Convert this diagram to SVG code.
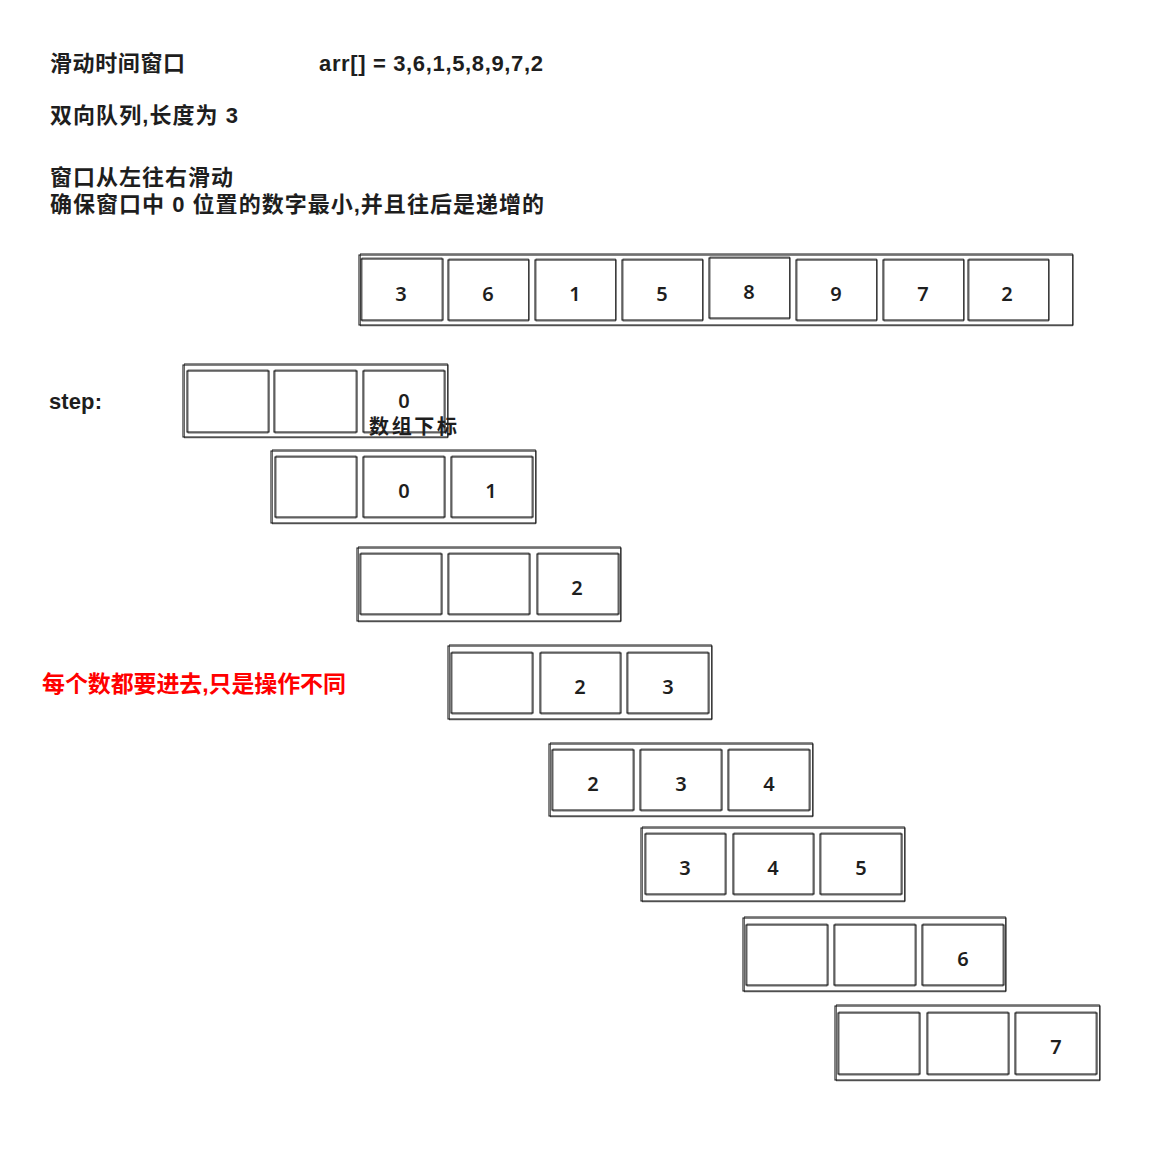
<svg xmlns="http://www.w3.org/2000/svg" width="1157" height="1151" viewBox="0 0 1157 1151">
<style>
.t{font-family:"Liberation Sans","Noto Sans CJK SC",sans-serif;font-weight:bold;font-size:22px;fill:#1e1e1e}
.r{fill:#ff0000;font-size:23px}
.n{font-family:"Noto Sans","Noto Sans CJK SC",sans-serif;font-size:20px;font-weight:600;fill:#1e1e1e;text-anchor:middle}
.b{fill:none;stroke:#1e1e1e;stroke-width:1.1}
.b2{fill:none;stroke:#1e1e1e;stroke-width:0.8;opacity:0.85}
</style>
<rect width="1157" height="1151" fill="#ffffff"/>
<g id="texts">
<text class="t" x="50" y="71" textLength="135">滑动时间窗口</text>
<text class="t" x="319" y="71" textLength="224" font-size="23">arr[] = 3,6,1,5,8,9,7,2</text>
<text class="t" x="50" y="123" textLength="188">双向队列,长度为 3</text>
<text class="t" x="50" y="185" textLength="183">窗口从左往右滑动</text>
<text class="t" x="50" y="212" textLength="494">确保窗口中 0 位置的数字最小,并且往后是递增的</text>
<text class="t" x="49" y="409" textLength="53">step:</text>
<text class="t r" x="42" y="692" textLength="304">每个数都要进去,只是操作不同</text>
</g>
<g id="array">
<rect class="b" x="359" y="255" width="714" height="70"/><rect class="b2" x="360.5" y="253.8" width="712" height="72"/>
<rect class="b" x="361" y="259" width="82" height="61"/><rect class="b2" x="362" y="258" width="80" height="63"/>
<rect class="b" x="448" y="260" width="81" height="60"/><rect class="b2" x="449" y="259" width="79.5" height="62"/>
<rect class="b" x="535" y="260" width="81" height="60"/><rect class="b2" x="536" y="259" width="79.5" height="62"/>
<rect class="b" x="622" y="260" width="81" height="60"/><rect class="b2" x="623" y="259" width="79.5" height="62"/>
<rect class="b" x="709" y="258" width="81" height="60"/><rect class="b2" x="710" y="257" width="79.5" height="62"/>
<rect class="b" x="796" y="260" width="81" height="60"/><rect class="b2" x="797" y="259" width="79.5" height="62"/>
<rect class="b" x="883" y="260" width="81" height="60"/><rect class="b2" x="884" y="259" width="79.5" height="62"/>
<rect class="b" x="968" y="260" width="81" height="60"/><rect class="b2" x="969" y="259" width="79.5" height="62"/>
<text class="n" x="401" y="301">3</text><text class="n" x="488" y="301">6</text><text class="n" x="575" y="301">1</text><text class="n" x="662" y="301">5</text>
<text class="n" x="749" y="299">8</text><text class="n" x="836" y="301">9</text><text class="n" x="923" y="301">7</text><text class="n" x="1007" y="301">2</text>
</g>
<g id="step1">
<rect class="b" x="183" y="365" width="265" height="72"/><rect class="b2" x="184.5" y="363.8" width="263" height="74"/>
<rect class="b" x="187" y="371" width="82" height="61"/><rect class="b2" x="188" y="370" width="80" height="63"/>
<rect class="b" x="274" y="371" width="83" height="61"/><rect class="b2" x="275" y="370" width="81" height="63"/>
<rect class="b" x="363" y="371" width="82" height="61"/><rect class="b2" x="364" y="370" width="80" height="63"/>
<text class="n" x="404" y="408">0</text>
<text class="n" x="413" y="434" font-size="18" font-weight="normal" textLength="88">数组下标</text>
</g>
<g id="step2">
<rect class="b" x="271" y="451" width="265" height="72"/><rect class="b2" x="272.5" y="449.8" width="263" height="74"/>
<rect class="b" x="275" y="457" width="82" height="60"/><rect class="b2" x="276" y="456" width="80" height="62"/>
<rect class="b" x="363" y="457" width="82" height="60"/><rect class="b2" x="364" y="456" width="80" height="62"/>
<rect class="b" x="451" y="457" width="82" height="60"/><rect class="b2" x="452" y="456" width="80" height="62"/>
<text class="n" x="404" y="498">0</text><text class="n" x="491" y="498">1</text>
</g>
<g id="step3">
<rect class="b" x="357" y="548" width="264" height="73"/><rect class="b2" x="358.5" y="546.8" width="262" height="75"/>
<rect class="b" x="360" y="554" width="82" height="60"/><rect class="b2" x="361" y="553" width="80" height="62"/>
<rect class="b" x="448" y="554" width="82" height="60"/><rect class="b2" x="449" y="553" width="80" height="62"/>
<rect class="b" x="537" y="554" width="82" height="60"/><rect class="b2" x="538" y="553" width="80" height="62"/>
<text class="n" x="577" y="595">2</text>
</g>
<g id="step4">
<rect class="b" x="448" y="646" width="264" height="73"/><rect class="b2" x="449.5" y="644.8" width="262" height="75"/>
<rect class="b" x="451" y="653" width="82" height="60"/><rect class="b2" x="452" y="652" width="80" height="62"/>
<rect class="b" x="540" y="653" width="81" height="60"/><rect class="b2" x="541" y="652" width="79" height="62"/>
<rect class="b" x="627" y="653" width="82" height="60"/><rect class="b2" x="628" y="652" width="80" height="62"/>
<text class="n" x="580" y="694">2</text><text class="n" x="668" y="694">3</text>
</g>
<g id="step5">
<rect class="b" x="549" y="744" width="264" height="72"/><rect class="b2" x="550.5" y="742.8" width="262" height="74"/>
<rect class="b" x="552" y="750" width="82" height="60"/><rect class="b2" x="553" y="749" width="80" height="62"/>
<rect class="b" x="640" y="750" width="82" height="60"/><rect class="b2" x="641" y="749" width="80" height="62"/>
<rect class="b" x="728" y="750" width="82" height="60"/><rect class="b2" x="729" y="749" width="80" height="62"/>
<text class="n" x="593" y="791">2</text><text class="n" x="681" y="791">3</text><text class="n" x="769" y="791">4</text>
</g>
<g id="step6">
<rect class="b" x="641" y="828" width="264" height="73"/><rect class="b2" x="642.5" y="826.8" width="262" height="75"/>
<rect class="b" x="645" y="834" width="81" height="60"/><rect class="b2" x="646" y="833" width="79" height="62"/>
<rect class="b" x="733" y="834" width="81" height="60"/><rect class="b2" x="734" y="833" width="79" height="62"/>
<rect class="b" x="820" y="834" width="82" height="60"/><rect class="b2" x="821" y="833" width="80" height="62"/>
<text class="n" x="685" y="875">3</text><text class="n" x="773" y="875">4</text><text class="n" x="861" y="875">5</text>
</g>
<g id="step7">
<rect class="b" x="743" y="918" width="263" height="73"/><rect class="b2" x="744.5" y="916.8" width="261" height="75"/>
<rect class="b" x="746" y="925" width="82" height="60"/><rect class="b2" x="747" y="924" width="80" height="62"/>
<rect class="b" x="834" y="925" width="82" height="60"/><rect class="b2" x="835" y="924" width="80" height="62"/>
<rect class="b" x="922" y="925" width="82" height="60"/><rect class="b2" x="923" y="924" width="80" height="62"/>
<text class="n" x="963" y="966">6</text>
</g>
<g id="step8">
<rect class="b" x="835" y="1006" width="265" height="74"/><rect class="b2" x="836.5" y="1004.8" width="263" height="76"/>
<rect class="b" x="838" y="1013" width="82" height="61"/><rect class="b2" x="839" y="1012" width="80" height="63"/>
<rect class="b" x="927" y="1013" width="82" height="61"/><rect class="b2" x="928" y="1012" width="80" height="63"/>
<rect class="b" x="1015" y="1013" width="82" height="61"/><rect class="b2" x="1016" y="1012" width="80" height="63"/>
<text class="n" x="1056" y="1054">7</text>
</g>
</svg>
